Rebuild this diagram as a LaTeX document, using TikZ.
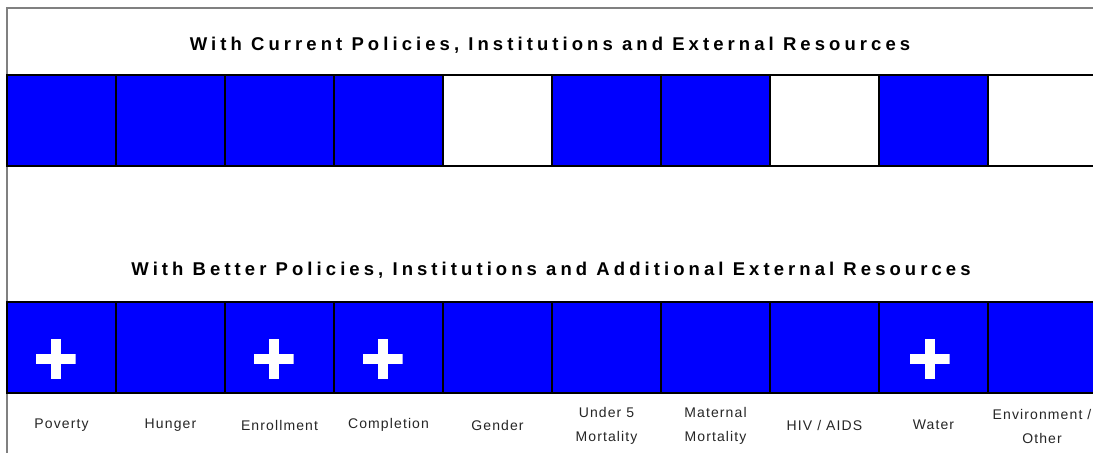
\documentclass[tikz,border=0pt]{standalone}
\usepackage{fontspec}
\setmainfont{Liberation Sans}
\newfontfamily\headfont[LetterSpace=22]{Liberation Sans}
\newfontfamily\labfont[LetterSpace=8]{Liberation Sans}
\definecolor{goalblue}{HTML}{0000FF}
\definecolor{framegray}{HTML}{808080}
\tikzset{
  cellon/.style={rectangle, fill=goalblue, minimum width=109pt, minimum height=91pt, inner sep=0pt, outer sep=0pt, anchor=north west},
  celloff/.style={cellon, fill=white},
  gridline/.style={draw=black, line width=1.6pt},
  plusmark/.style={minimum size=40pt, inner sep=0pt, path picture={
    \fill[white] ([yshift=-5pt]path picture bounding box.west) rectangle ([yshift=5pt]path picture bounding box.east);
    \fill[white] ([xshift=-5pt]path picture bounding box.south) rectangle ([xshift=5pt]path picture bounding box.north);}},
  headline/.style={font=\headfont\bfseries\fontsize{18.5pt}{20pt}\selectfont},
  goallab/.style={font=\labfont\fontsize{14pt}{24pt}\selectfont, align=center, text=black!85}
}
\begin{document}
\begin{tikzpicture}[x=1pt,y=-1pt]
\useasboundingbox (0,0) rectangle (1093,453);
\fill[white] (0,0) rectangle (1093,453);
\draw[framegray, line width=1.5pt] (1093,8) -- (7,8) -- (7,453);
% current policies
\node [headline] (headA) at (550,45) {With Current Policies, Institutions and External Resources};
\node [cellon]  (a1)  at (7,75) {};
\node [cellon]  (a2)  at (116,75) {};
\node [cellon]  (a3)  at (225,75) {};
\node [cellon]  (a4)  at (334,75) {};
\node [celloff] (a5)  at (443,75) {};
\node [cellon]  (a6)  at (552,75) {};
\node [cellon]  (a7)  at (661,75) {};
\node [celloff] (a8)  at (770,75) {};
\node [cellon]  (a9)  at (879,75) {};
\node [celloff] (a10) at (988,75) {};
% better policies
\node [headline] (headB) at (551,270) {With Better Policies, Institutions and Additional External Resources};
\node [cellon] (b1)  at (7,302) {};
\node [cellon] (b2)  at (116,302) {};
\node [cellon] (b3)  at (225,302) {};
\node [cellon] (b4)  at (334,302) {};
\node [cellon] (b5)  at (443,302) {};
\node [cellon] (b6)  at (552,302) {};
\node [cellon] (b7)  at (661,302) {};
\node [cellon] (b8)  at (770,302) {};
\node [cellon] (b9)  at (879,302) {};
\node [cellon] (b10) at (988,302) {};
% cell borders on top of the fills
\foreach \c in {a1,a2,a3,a4,a5,a6,a7,a8,a9,a10,b1,b2,b3,b4,b5,b6,b7,b8,b9,b10}
  \draw [gridline] (\c.north west) rectangle (\c.south east);
\node [plusmark] (p1) at ([xshift=-6pt,yshift=-11pt]b1.center) {};
\node [plusmark] (p3) at ([xshift=-6pt,yshift=-11pt]b3.center) {};
\node [plusmark] (p4) at ([xshift=-6pt,yshift=-11pt]b4.center) {};
\node [plusmark] (p9) at ([xshift=-4pt,yshift=-11pt]b9.center) {};
% labels
\node [goallab] (l1)  at (61.5,425)  {Poverty};
\node [goallab] (l2)  at (170.5,425) {Hunger};
\node [goallab] (l3)  at (279.5,425) {Enrollment};
\node [goallab] (l4)  at (388.5,425) {Completion};
\node [goallab] (l5)  at (497.5,425) {Gender};
\node [goallab] (l6)  at (606.5,426) {Under 5\\Mortality};
\node [goallab] (l7)  at (715.5,426) {Maternal\\Mortality};
\node [goallab] (l8)  at (824.5,425) {HIV / AIDS};
\node [goallab] (l9)  at (933.5,425) {Water};
\node [goallab] (l10) at (1042,426)  {Environment /\\Other};
\end{tikzpicture}
\end{document}
